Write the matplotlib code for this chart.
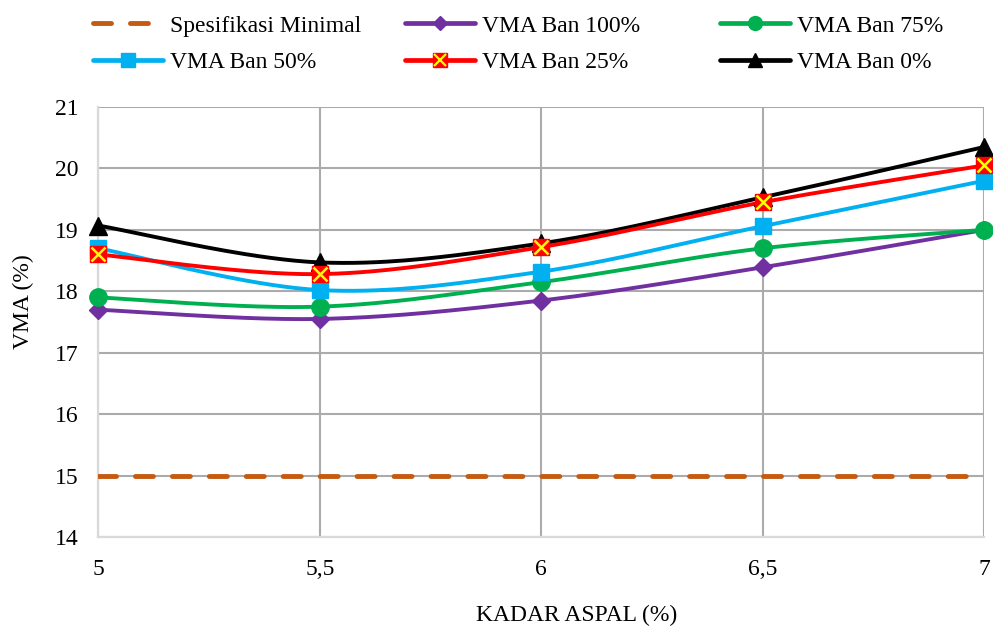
import numpy as np
import matplotlib
matplotlib.use("Agg")
import matplotlib.pyplot as plt
from matplotlib.legend_handler import HandlerTuple

plt.rcParams['font.family'] = ['Liberation Serif', 'DejaVu Serif']

kadar_aspal = [5, 5.5, 6, 6.5, 7]
spesifikasi_minimal = [15, 15, 15, 15, 15]
vma_ban_100 = [17.70, 17.55, 17.85, 18.39, 19.00]
vma_ban_75 = [17.90, 17.75, 18.15, 18.70, 19.00]
vma_ban_50 = [18.70, 18.02, 18.32, 19.06, 19.80]
vma_ban_25 = [18.60, 18.28, 18.72, 19.45, 20.05]
vma_ban_0 = [19.07, 18.47, 18.78, 19.53, 20.35]
x_labels = ['5', '5,5', '6', '6,5', '7']

FS = 17
LW = 2.8
ORANGE = '#c55a11'
DASH = (3.7, 3.9)


def smooth(x, y, n=40):
    # catmull-rom curve through the points (spreadsheet style smoothed line)
    x = np.asarray(x, float)
    y = np.asarray(y, float)
    px = np.concatenate([[x[0]], x, [x[-1]]])
    py = np.concatenate([[y[0]], y, [y[-1]]])
    xs, ys = [], []
    t = np.linspace(0, 1, n)
    for i in range(1, len(px) - 2):
        p0, p1, p2, p3 = px[i-1], px[i], px[i+1], px[i+2]
        q0, q1, q2, q3 = py[i-1], py[i], py[i+1], py[i+2]
        c1x, c1y = p1 + (p2 - p0) / 6, q1 + (q2 - q0) / 6
        c2x, c2y = p2 - (p3 - p1) / 6, q2 - (q3 - q1) / 6
        bx = (1-t)**3*p1 + 3*(1-t)**2*t*c1x + 3*(1-t)*t**2*c2x + t**3*p2
        by = (1-t)**3*q1 + 3*(1-t)**2*t*c1y + 3*(1-t)*t**2*c2y + t**3*q2
        xs.append(bx)
        ys.append(by)
    return np.concatenate(xs), np.concatenate(ys)


fig = plt.figure(figsize=(9.93, 6.28), dpi=100)
ax = fig.add_axes([0.099, 0.1449, 0.8923, 0.6847])

ax.plot(kadar_aspal, spesifikasi_minimal, color=ORANGE, lw=3.5,
        dashes=DASH, dash_capstyle='round', zorder=3)

series = [
    (vma_ban_100, '#7030a0', 'D', 9.2),
    (vma_ban_75, '#00b050', 'o', 12.5),
    (vma_ban_50, '#00b0f0', 's', 12),
    (vma_ban_0, 'black', '^', 13),
]
for vals, col, mk, ms in series:
    sx, sy = smooth(kadar_aspal, vals)
    ax.plot(sx, sy, color=col, lw=LW, zorder=4, clip_on=False)
    ax.plot(kadar_aspal, vals, ls='none', marker=mk, ms=ms, color=col,
            mec=col, zorder=5, clip_on=False)

# 25% series: red square with a yellow cross on top
sx, sy = smooth(kadar_aspal, vma_ban_25)
ax.plot(sx, sy, color='#ff0000', lw=LW, zorder=4, clip_on=False)
ax.plot(kadar_aspal, vma_ban_25, ls='none', marker='s', ms=12,
        color='#ff0000', mec='#ff0000', zorder=6, clip_on=False)
ax.plot(kadar_aspal, vma_ban_25, ls='none', marker='x', ms=10, mew=1.8,
        color='#ffff00', zorder=7, clip_on=False)


def leg_line(col, mk=None, ms=8):
    return plt.Line2D([], [], color=col, lw=3.4, marker=mk, ms=ms, mec=col,
                      solid_capstyle='round')


h_spec = plt.Line2D([], [], color=ORANGE, lw=3.5, dashes=DASH,
                    dash_capstyle='round')
h100 = leg_line('#7030a0', 'D', 7.6)
h75 = leg_line('#00b050', 'o', 10)
h50 = leg_line('#00b0f0', 's', 9.4)
h25 = (leg_line('#ff0000', 's', 9.4),
       plt.Line2D([], [], ls='none', marker='x', ms=8, mew=1.6, color='#ffff00'))
h0 = leg_line('black', '^', 9.4)

# three legend columns with equal spacing
columns = [
    ([h_spec, h50], ['Spesifikasi Minimal', 'VMA Ban 50%'], 0.0937),
    ([h100, h25], ['VMA Ban 100%', 'VMA Ban 25%'], 0.408),
    ([h75, h0], ['VMA Ban 75%', 'VMA Ban 0%'], 0.725),
]
for hs, labs, x0 in columns:
    fig.legend(hs, labs, loc='upper left', bbox_to_anchor=(x0, 0.976),
               frameon=False, fontsize=FS, handlelength=2.95,
               handletextpad=0.3, labelspacing=0.65, borderpad=0,
               borderaxespad=0, handler_map={tuple: HandlerTuple(ndivide=1)})

ax.set_xlim(5, 7)
ax.set_ylim(14, 21)
ax.set_xticks(kadar_aspal)
ax.set_xticklabels(x_labels)
ax.set_yticks(range(14, 22))
ax.tick_params(length=0, labelsize=FS)
ax.tick_params(axis='y', pad=14)
ax.tick_params(axis='x', pad=16)
ax.grid(True, color='#ababab', lw=1.5)
ax.set_axisbelow(True)
for side in ['top', 'right']:
    ax.spines[side].set_visible(False)
for side in ['left', 'bottom']:
    ax.spines[side].set_color('#d9d9d9')
    ax.spines[side].set_linewidth(1.6)

ax.set_xlabel('KADAR ASPAL (%)', fontsize=FS)
ax.set_ylabel('VMA (%)', fontsize=FS)
ax.xaxis.set_label_coords(0.54, -0.158)
ax.yaxis.set_label_coords(-0.073, 0.547)

fig.savefig('out.png', dpi=100)
